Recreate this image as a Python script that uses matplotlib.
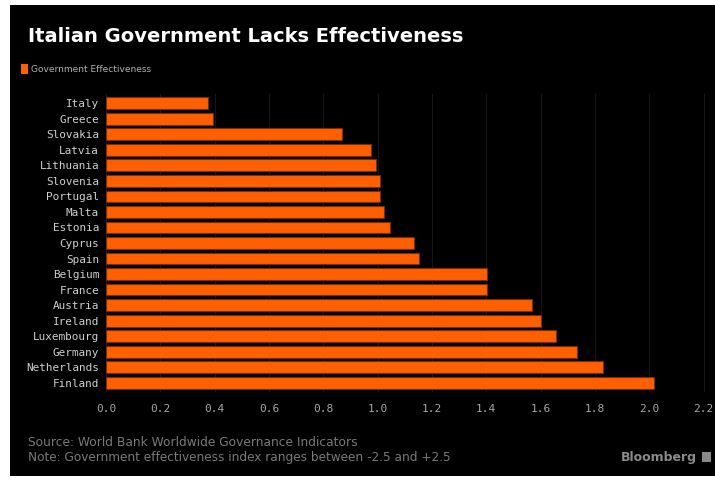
import matplotlib
matplotlib.use("Agg")
import matplotlib.pyplot as plt
from matplotlib.patches import Rectangle

# Data (World Bank government effectiveness score)
countries = ["Italy", "Greece", "Slovakia", "Latvia", "Lithuania", "Slovenia",
             "Portugal", "Malta", "Estonia", "Cyprus", "Spain", "Belgium",
             "France", "Austria", "Ireland", "Luxembourg", "Germany",
             "Netherlands", "Finland"]
effectiveness = [0.375, 0.395, 0.870, 0.975, 0.994, 1.008, 1.009, 1.025, 1.047,
                 1.135, 1.151, 1.401, 1.403, 1.569, 1.601, 1.655, 1.732,
                 1.829, 2.017]
xticks = [0.0, 0.2, 0.4, 0.6, 0.8, 1.0, 1.2, 1.4, 1.6, 1.8, 2.0, 2.2]

orange = "#ff5f00"
W, H = 715, 480

fig = plt.figure(figsize=(7.15, 4.8), dpi=100, facecolor="white")
# black panel (white margin on left/top like the screenshot)
fig.patches.append(Rectangle((10 / W, 1 - 476 / H), 1 - 10 / W, (476 - 5) / H,
                             transform=fig.transFigure, facecolor="black",
                             edgecolor="none", zorder=-10))

ax = fig.add_axes([106 / W, 1 - 392 / H, (705 - 106) / W, (392 - 94) / H])
ax.set_facecolor("black")

ypos = list(range(len(countries)))
ax.barh(ypos, effectiveness, height=0.76, color=orange,
        edgecolor="#7a2e00", linewidth=0.8, zorder=3)

ax.set_xlim(0, 2.205)
ax.set_ylim(len(countries) - 0.4, -0.6)
ax.set_xticks(xticks)
ax.set_xticklabels([f"{t:.1f}" for t in xticks], family="DejaVu Sans Mono",
                   fontsize=8, color="#a8a8a8")
ax.set_yticks(ypos)
ax.set_yticklabels(countries, family="DejaVu Sans Mono", fontsize=7.9,
                   color="#d0d0d0")
ax.tick_params(axis="x", length=0, pad=9)
ax.tick_params(axis="y", length=0, pad=5)
ax.grid(axis="x", color="#161616", linewidth=0.8, zorder=0)
for s in ax.spines.values():
    s.set_visible(False)

# title and legend
fig.text(28 / W, 1 - 37 / H, "Italian Government Lacks Effectiveness",
         color="white", fontsize=14, fontweight="bold", va="center",
         family="DejaVu Sans")
fig.patches.append(Rectangle((21 / W, 1 - 74 / H), 7 / W, 10 / H,
                             transform=fig.transFigure, facecolor=orange,
                             edgecolor="none"))
fig.text(31 / W, 1 - 69 / H, "Government Effectiveness", color="#b0b0b0",
         fontsize=6.5, va="center")

# footer
fig.text(28 / W, 1 - 443 / H, "Source: World Bank Worldwide Governance Indicators",
         color="#7a7a7a", fontsize=8.8, va="center")
fig.text(28 / W, 1 - 458 / H,
         "Note: Government effectiveness index ranges between -2.5 and +2.5",
         color="#7a7a7a", fontsize=8.7, va="center")
fig.text(697 / W, 1 - 457 / H, "Bloomberg", color="#8a8a8a", fontsize=9,
         fontweight="bold", va="center", ha="right")
fig.patches.append(Rectangle((702 / W, 1 - 462 / H), 9 / W, 10 / H,
                             transform=fig.transFigure, facecolor="#8a8a8a",
                             edgecolor="none"))

fig.savefig("out.png", dpi=100, facecolor="white")
